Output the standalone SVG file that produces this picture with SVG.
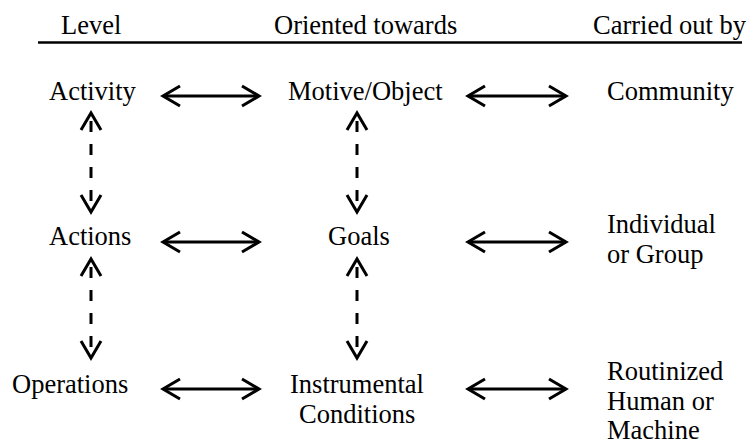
<svg xmlns="http://www.w3.org/2000/svg" width="750" height="442" viewBox="0 0 750 442">
  <style>
    .link { fill: none; stroke: #000; stroke-width: 3; }
    .dashed { stroke-dasharray: 11 12; stroke-dashoffset: 15; }
  </style>
  <defs>
    <marker id="chev" viewBox="-20 -12 24 24" refX="0" refY="0" markerWidth="24" markerHeight="24" markerUnits="userSpaceOnUse" orient="auto-start-reverse">
      <path d="M-17,-10 L0,0 L-17,10" fill="none" stroke="#000" stroke-width="3"/>
    </marker>
  </defs>
  <rect width="750" height="442" fill="#fff"/>

  <g font-family="'Liberation Serif', 'Times New Roman', Times, 'DejaVu Serif', serif" font-size="26.5" fill="#000">
    <!-- column headings -->
    <g id="header">
      <text x="61" y="34">Level</text>
      <text x="274" y="34">Oriented towards</text>
      <text x="593" y="34">Carried out by</text>
      <line x1="38" y1="42.5" x2="742" y2="42.5" stroke="#000" stroke-width="2.6"/>
    </g>

    <!-- level column -->
    <g id="activity"><text x="49" y="100">Activity</text></g>
    <g id="actions"><text x="49" y="245">Actions</text></g>
    <g id="operations"><text x="12" y="393">Operations</text></g>

    <!-- orientation column -->
    <g id="motive"><text x="288" y="100">Motive/Object</text></g>
    <g id="goals"><text x="328" y="245">Goals</text></g>
    <g id="conditions">
      <text x="290" y="393">Instrumental</text>
      <text x="299" y="423">Conditions</text>
    </g>

    <!-- subject column -->
    <g id="community"><text x="607" y="100">Community</text></g>
    <g id="individual">
      <text x="607" y="233">Individual</text>
      <text x="607" y="263">or Group</text>
    </g>
    <g id="routinized">
      <text x="607" y="380">Routinized</text>
      <text x="607" y="410">Human or</text>
      <text x="607" y="439">Machine</text>
    </g>
  </g>

  <!-- connectors -->
  <g id="connectors">
    <line class="link" x1="163" y1="96" x2="259" y2="96" marker-start="url(#chev)" marker-end="url(#chev)"/>
    <line class="link" x1="468" y1="96" x2="566" y2="96" marker-start="url(#chev)" marker-end="url(#chev)"/>
    <line class="link" x1="163" y1="242" x2="259" y2="242" marker-start="url(#chev)" marker-end="url(#chev)"/>
    <line class="link" x1="468" y1="242" x2="566" y2="242" marker-start="url(#chev)" marker-end="url(#chev)"/>
    <line class="link" x1="163" y1="389" x2="259" y2="389" marker-start="url(#chev)" marker-end="url(#chev)"/>
    <line class="link" x1="468" y1="389" x2="566" y2="389" marker-start="url(#chev)" marker-end="url(#chev)"/>

    <line class="link dashed" x1="91" y1="113" x2="91" y2="212" marker-start="url(#chev)" marker-end="url(#chev)"/>
    <line class="link dashed" x1="357" y1="113" x2="357" y2="212" marker-start="url(#chev)" marker-end="url(#chev)"/>
    <line class="link dashed" x1="91" y1="259" x2="91" y2="358" marker-start="url(#chev)" marker-end="url(#chev)"/>
    <line class="link dashed" x1="357" y1="259" x2="357" y2="358" marker-start="url(#chev)" marker-end="url(#chev)"/>
  </g>
</svg>
